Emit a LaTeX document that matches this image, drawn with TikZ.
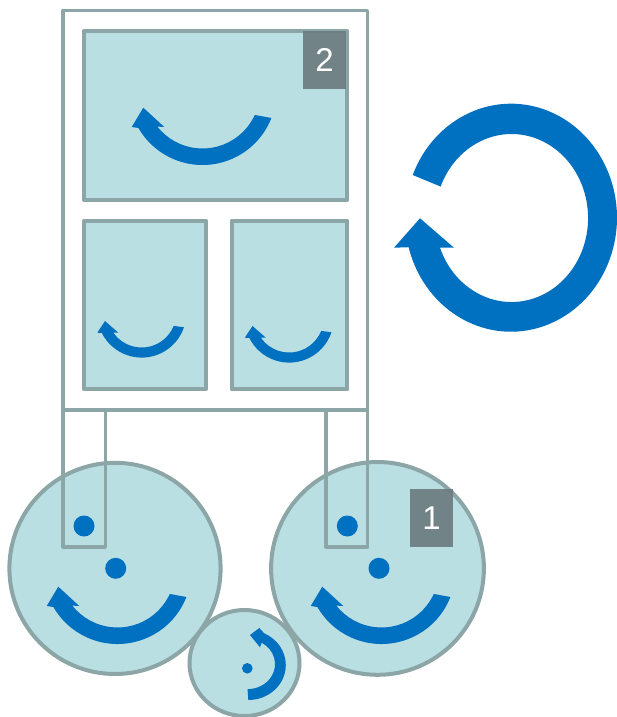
\documentclass[tikz,border=0pt]{standalone}
\usepackage{fontspec}
\setmainfont{Liberation Sans}
\definecolor{wheelfill}{HTML}{B9DFE3}
\definecolor{edgegrey}{HTML}{8CA5A7}
\definecolor{spinblue}{HTML}{0070C0}
\definecolor{badgegrey}{HTML}{6A7A7D}
\tikzset{
  panel/.style={draw=edgegrey,fill=wheelfill,line width=4pt,line join=round},
  frame/.style={draw=edgegrey,line width=3.6pt,line join=round},
  spin/.style={fill=spinblue,draw=none},
  hub/.style={fill=spinblue,draw=none},
  badge/.style={fill=badgegrey,fill opacity=.9,draw=none,text opacity=1,text=white,inner sep=0pt,font=\fontsize{33}{33}\selectfont}
}
\newcommand\bigsmile[2]{%
  \fill[spin,shift={(#1,#2)}] (21.4:74pt) arc[start angle=21.4,end angle=150,radius=74pt]
    -- (-70.8,36) -- (-59.2,16.7) -- (-38.2,36) -- (141.8:57.5pt)
    arc[start angle=141.8,end angle=24.6,radius=57.5pt] -- cycle;}
\newcommand\smallsmile[2]{%
  \fill[spin,shift={(#1,#2)}] (18.7:44.6pt) arc[start angle=18.7,end angle=153.4,radius=44.6pt]
    -- (-44.4,19.7) -- (-36.7,8) -- (-23.4,19.7) -- (145.3:34.5pt)
    arc[start angle=145.3,end angle=21.9,radius=34.5pt] -- cycle;}
\begin{document}
\begin{tikzpicture}[x=1pt,y=1pt,yscale=-1]
\useasboundingbox (0,0) rectangle (616,717);
% wheels
\draw[panel] (115,568.4) circle[radius=105.6pt];
\draw[panel] (377.5,568.4) circle[radius=106.4pt];
\draw[panel] (244.5,663) ellipse[x radius=55pt,y radius=53pt];
% carrier frame and rods
\draw[frame] (63,10.5) rectangle (367.5,410);
\draw[frame] (63,410) rectangle (105.3,546.8);
\draw[frame] (326,410) rectangle (367.5,546.8);
% panels
\draw[panel] (84,31) rectangle (347.3,200);
\draw[panel] (84,220.7) rectangle (205.7,389.3);
\draw[panel] (231.7,220.7) rectangle (347.3,389.3);
% hubs
\fill[hub] (84,526) circle[radius=10.5pt];
\fill[hub] (115.7,568.3) circle[radius=10.5pt];
\fill[hub] (347.3,526) circle[radius=10.5pt];
\fill[hub] (379,568.3) circle[radius=10.5pt];
\fill[hub] (247.3,668.3) circle[radius=5.3pt];
% rotation arrows
\bigsmile{117.5}{570}
\bigsmile{381.5}{570}
\bigsmile{202.5}{91}
\smallsmile{141.7}{313}
\smallsmile{289.2}{318}
\fill[spin] (248.3,700) arc[start angle=90,end angle=-65,x radius=37.5pt,y radius=35pt]
  -- (259.3,628) -- (250,635) -- (260,647.3) -- (261.7,642.7)
  arc[start angle=-59,end angle=90,x radius=27.5pt,y radius=25pt] -- cycle;
\fill[spin] (412.7,175) arc[start angle=202,end angle=525,x radius=106pt,y radius=114pt]
  -- (394,247.7) -- (420,218.3) -- (454,247.7) -- (440,247.7)
  arc[start angle=519.3,end angle=202,x radius=76.5pt,y radius=84pt] -- cycle;
% badges
\node[badge,minimum width=43pt,minimum height=58pt] (badgeTwo) at (324.5,60) {\raisebox{-1pt}{2}};
\node[badge,minimum width=43pt,minimum height=57.7pt] (badgeOne) at (431.5,517.9) {\raisebox{-1pt}{1}};
\end{tikzpicture}
\end{document}
